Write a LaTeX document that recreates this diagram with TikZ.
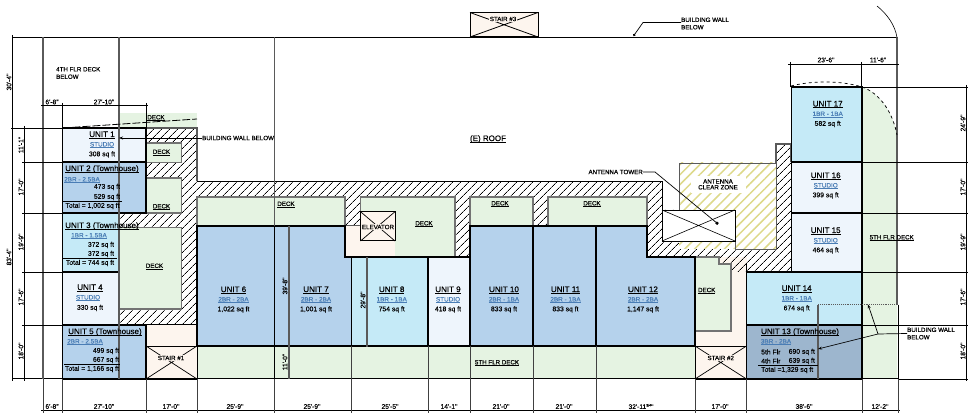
\documentclass[tikz,border=0pt]{standalone}
\usepackage{fontspec}
\usetikzlibrary{patterns.meta,arrows.meta}
\newfontfamily\lsf{Liberation Sans}
\newfontfamily\lsb[FakeBold=0.2]{Liberation Sans}
\newfontfamily\lsc[FakeBold=0.4]{Liberation Sans}
\definecolor{ublue}{HTML}{B5D2EC}
\definecolor{ucyan}{HTML}{C5EAF7}
\definecolor{ulight}{HTML}{EEF5FC}
\definecolor{udark}{HTML}{9DB6CE}
\definecolor{deckg}{HTML}{E5F3E2}
\definecolor{beige}{HTML}{FDF5EE}
\definecolor{subblue}{HTML}{4A7DB5}
\definecolor{wallg}{HTML}{5A5A5A}
\definecolor{yhatch}{HTML}{DDD98A}
\newcommand{\ulx}[1]{\setbox0\hbox{#1}\rlap{\rule[-1.5pt]{\wd0}{.7pt}}\box0}
\tikzset{
  unitbox/.style={draw=black,line width=1.3pt},
  deckbox/.style={fill=deckg,draw=wallg!85,line width=1.2pt},
  stairbox/.style={fill=beige,draw=black,line width=1pt},
  hatched/.style={pattern={Lines[angle=45,distance=5.4pt,line width=.7pt]},pattern color=black},
  wall/.style={draw=wallg,line width=1.3pt},
  dimln/.style={draw=black,line width=.6pt},
  extln/.style={draw=black!75,line width=.7pt},
  ttl/.style={font=\lsc\fontsize{8}{9}\selectfont,inner sep=0pt,text=black},
  sub/.style={font=\lsb\fontsize{6.4}{7}\selectfont,inner sep=0pt,text=subblue},
  area/.style={font=\lsb\fontsize{6.8}{8}\selectfont,inner sep=0pt,text=black},
  lab/.style={font=\lsc\fontsize{6.2}{7.4}\selectfont,inner sep=0pt,text=black},
  dimt/.style={font=\lsb\fontsize{6.6}{8}\selectfont,inner sep=0pt,text=black},
  dimv/.style={dimt,rotate=90},
  ldr/.style={draw=black,line width=.7pt},
  ldra/.style={ldr,-{Stealth[length=4pt,width=3pt]}},
}
\newcommand{\unitlab}[6]{% name x y1 title sub area (with y+10, y+20)
  \node[ttl] (#1t) at (#2,#3) {\ulx{#4}};
  \node[sub] (#1s) at (#2,#3+10) {\ulx{#5}};
  \node[area] (#1a) at (#2,#3+19.5) {#6};
}
\begin{document}
\begin{tikzpicture}[x=1pt,y=-1pt]
\useasboundingbox (0,0) rectangle (975,419);
\fill[white] (0,0) rectangle (975,419);

% green and beige grounds
\fill[deckg] (119,113.5) rectangle (197,128);
\fill[deckg] (862,87) .. controls (880,93) and (893,113) .. (897,135) -- (897,379) -- (862,379) -- cycle;
\fill[beige] (146,325) rectangle (197,379);
\fill[beige] (695,257) rectangle (746.5,379);
\fill[deckg] (197,346) rectangle (695,379);

% hatched wall band
\path[hatched] (146,128) -- (197,128) -- (197,181.5) -- (662,181.5) -- (662,210) -- (776,210) -- (776,144) -- (791,144) -- (791,272) -- (731,272) -- (731,264) -- (719,264) -- (719,257) -- (647,257) -- (647,226) -- (470,226) -- (470,257) -- (455,257) -- (455,226) -- (197,226) -- (197,325) -- (119,325) -- (119,213) -- (146,213) -- cycle;
\draw[black,line width=.9pt] (197,181.5) -- (662,181.5) -- (662,210);
\draw[wallg,line width=1.1pt] (146,128) -- (197,128) -- (197,181.5);
\draw[wallg,line width=1.1pt] (776,210) -- (776,144) -- (791,144) -- (791,162);

% antenna clear zone
\fill[white] (679,163) rectangle (776,249);
\path[pattern={Lines[angle=45,distance=7pt,line width=1.5pt]},pattern color=yhatch] (679,163) rectangle (776,249);
\draw[wallg,line width=.9pt] (679,210) -- (679,163) -- (776,163) -- (776,249) -- (735,249) -- (735,241);
\fill[white] (691,176) rectangle (746,193);
\node[lab] (clear) at (718,185) {\begin{tabular}{@{}c@{}}ANTENNA\\[-1.5pt]CLEAR ZONE\end{tabular}};

% antenna tower box
\draw[fill=white,draw=black,line width=.9pt] (662,210) rectangle (735,241);
\draw[black,line width=.6pt] (662,210) -- (735,241) (662,241) -- (735,210);

% decks
\draw[deckbox] (146,143) rectangle (181.7,162.5);
\draw[deckbox] (146,178) -- (181.7,178) -- (181.7,213) -- (146,213) -- cycle;
\draw[deckbox] (119,227.5) rectangle (181.7,309);
\draw[deckbox] (197,197) rectangle (345,226);
\draw[deckbox] (360.5,197) rectangle (455,257);
\draw[deckbox] (470,197) rectangle (533,226);
\draw[deckbox] (548,197) rectangle (647,226);
\draw[deckbox] (695,257) -- (719,257) -- (719,264) -- (731,264) -- (731,331) -- (695,331) -- cycle;
\fill[beige] (345,226) rectangle (395,256);
\draw[wallg,line width=1pt] (345,226) -- (360.5,226);

% units
\draw[unitbox,fill=ulight] (62.5,128) rectangle (146,162);
\draw[unitbox,fill=ublue] (62.5,162) rectangle (146,213);
\draw[unitbox,fill=ucyan] (62.5,213) rectangle (119,272);
\draw[unitbox,fill=ulight] (62.5,272) rectangle (119,325);
\draw[unitbox,fill=ublue] (62.5,325) rectangle (146,379);
\draw[unitbox,fill=ublue] (197,226) rectangle (274.5,346);
\draw[unitbox,fill=ublue] (274.5,226) -- (345,226) -- (345,257) -- (351.5,257) -- (351.5,346) -- (274.5,346) -- cycle;
\draw[unitbox,fill=ucyan] (351.5,257) rectangle (428,346);
\draw[unitbox,fill=ulight] (428,257) rectangle (470,346);
\draw[unitbox,fill=ublue] (470,226) rectangle (533,346);
\draw[unitbox,fill=ublue] (533,226) rectangle (596,346);
\draw[unitbox,fill=ublue] (596,226) -- (647,226) -- (647,257) -- (695,257) -- (695,346) -- (596,346) -- cycle;
\draw[unitbox,fill=udark] (746.5,325) rectangle (862,379);
\draw[unitbox,fill=ucyan,draw=black] (746.5,272) rectangle (862,325);
\draw[unitbox,fill=ulight] (791.5,213) rectangle (862,272);
\draw[unitbox,fill=ulight] (791.5,162) rectangle (862,213);
\draw[unitbox,fill=ucyan] (791.5,87) rectangle (862,162);

% stairs and elevator
\draw[stairbox,draw=black,line width=.8pt] (146,346) rectangle (197,379);
\draw[black,line width=.7pt] (146,346) -- (197,379) (146,379) -- (197,346);
\draw[stairbox,draw=black,line width=.8pt] (695,346) rectangle (746.5,379);
\draw[black,line width=.7pt] (695,346) -- (746.5,379) (695,379) -- (746.5,346);
\draw[stairbox] (470,12.5) rectangle (538,37);
\draw[black,line width=.8pt] (470,12.5) -- (538,37) (470,37) -- (538,12.5);
\draw[stairbox] (360.5,211.7) rectangle (395,241);
\draw[black,line width=.7pt] (360.5,211.7) -- (395,241) (360.5,241) -- (395,211.7);

% frame and building lines
\draw[black,line width=1pt] (12,37.5) -- (897,37.5);
\draw[black,line width=1pt] (12,379) -- (898,379);
\draw[black,line width=1pt] (146,325) -- (197,325);
\draw[black,line width=1pt] (197,346) -- (695,346);
\draw[black,line width=1pt] (746.5,379) -- (746.5,264);
\draw[wall] (43,37.5) -- (43,379);
\draw[wall] (119,37.5) -- (119,379);
\draw[wallg,line width=1.4pt] (274.5,37.5) -- (274.5,226);
\draw[black,line width=1.2pt] (274.5,226) -- (274.5,379);
\draw[wall] (289,226) -- (289,379);
\draw[wall] (367,257) -- (367,347);
\draw[extln] (351.5,346) -- (351.5,379) (428,346) -- (428,379) (470,346) -- (470,379) (533,346) -- (533,379) (596,346) -- (596,379);
\draw[black,line width=1pt] (197,325) -- (197,379);
\draw[black,line width=1pt] (146,325) -- (146,379);
\draw[black,line width=1pt] (695,346) -- (695,379);
\draw[black,line width=1pt] (862,87) -- (862,379);
\draw[wallg,line width=1.7pt] (897,37.5) -- (897,304.7);
\draw[black,line width=.8pt] (898,304.7) -- (898,379);
\draw[wall] (818,304.7) -- (818,379);
\draw[wallg,line width=.9pt,densely dotted] (818,304.7) -- (897,304.7);

% curved and dashed outlines
\draw[black,line width=.6pt] (877,6) .. controls (887,14) and (895,25) .. (897,37.5);
\draw[black,line width=.7pt,dashed] (862,87) .. controls (880,93) and (893,113) .. (897,135);
\draw[black,line width=.7pt,dashed] (791,86) .. controls (810,81) and (840,80) .. (862,87);
\draw[black,line width=.8pt,dash pattern=on 8pt off 2pt] (62.5,128) -- (197,119);

% dimension lines: left
\draw[dimln] (12.5,35) -- (12.5,381);
\draw[dimln] (24.5,126) -- (24.5,381);
\draw[dimln] (11,128) -- (62.5,128);
\draw[dimln] (22,162) -- (62.5,162) (22,213) -- (62.5,213) (22,272) -- (62.5,272) (22,325) -- (62.5,325);
% top left
\draw[dimln] (41,105.5) -- (148,105.5);
\draw[dimln] (62.5,103) -- (62.5,128) (146,103) -- (146,128);
% top right
\draw[dimln] (788,64) -- (899,64);
\draw[dimln] (790,62) -- (790,87) (861.7,62) -- (861.7,87);
% right
\draw[dimln] (966,85) -- (966,381);
\draw[dimln] (862,87) -- (968,87) (862,162) -- (968,162) (862,213) -- (968,213) (862,272) -- (968,272) (862,325) -- (968,325) (898,379) -- (968,379);
% bottom
\draw[dimln] (41,410.5) -- (900,410.5);
\foreach \xx in {43,62.5,146,197,274.5,351.5,428,470,533,596,695,746.5,862,898} {
  \draw[extln] (\xx,379) -- (\xx,413);
}

% dimension texts
\node[dimv] (d1) at (9,82) {30'-4"};
\node[dimv] (d2) at (9,257) {83'-4"};
\node[dimv] (d3) at (21,145) {11'-1"};
\node[dimv] (d4) at (21,187) {17'-0"};
\node[dimv] (d5) at (21,242) {19'-9"};
\node[dimv] (d6) at (21,297) {17'-6"};
\node[dimv] (d7) at (21,351) {18'-0"};
\node[dimv] (d8) at (285,286) {39'-8"};
\node[dimv] (d9) at (285,362) {11'-0"};
\node[dimv] (d10) at (363,300) {29'-8"};
\node[dimv] (d11) at (963,123) {24'-9"};
\node[dimv] (d12) at (963,187) {17'-0"};
\node[dimv] (d13) at (963,242) {19'-9"};
\node[dimv] (d14) at (963,297) {17'-6"};
\node[dimv] (d15) at (963,351) {18'-0"};
\node[dimt] (t1) at (52,102) {6'-8"};
\node[dimt] (t2) at (104,102) {27'-10"};
\node[dimt] (t3) at (826,60) {23'-6"};
\node[dimt] (t4) at (878,60) {11'-6"};
\node[dimt] (b1) at (52,406.5) {6'-8"};
\node[dimt] (b2) at (104,406.5) {27'-10"};
\node[dimt] (b3) at (171,406.5) {17'-0"};
\node[dimt] (b4) at (235,406.5) {25'-9"};
\node[dimt] (b5) at (312,406.5) {25'-9"};
\node[dimt] (b6) at (390,406.5) {25'-5"};
\node[dimt] (b7) at (449,406.5) {14'-1"};
\node[dimt] (b8) at (501,406.5) {21'-0"};
\node[dimt] (b9) at (564,406.5) {21'-0"};
\node[dimt] (b10) at (641,406.5) {32'-11\raisebox{2.5pt}{\fontsize{3.5}{4}\selectfont 3/4}"};
\node[dimt] (b11) at (720,406.5) {17'-0"};
\node[dimt] (b12) at (804,406.5) {38'-6"};
\node[dimt] (b13) at (880,406.5) {12'-2"};

% unit labels
\unitlab{u1}{102}{135}{UNIT 1}{STUDIO}{308 sq ft}
\node[ttl] (u2t) at (102,169) {\ulx{UNIT 2 (Townhouse)}};
\node[sub] (u2s) at (82,180) {\ulx{2BR - 2.5BA}};
\node[area] (u2a) at (107,187) {473 sq ft};
\node[area] (u2b) at (107,197) {529 sq ft};
\draw[black,line width=.6pt] (63,201) -- (122,201);
\node[area] (u2c) at (92.5,206) {Total = 1,002 sq ft};
\node[ttl] (u3t) at (102,226) {\ulx{UNIT 3 (Townhouse)}};
\node[sub] (u3s) at (89,236) {\ulx{1BR - 1.5BA}};
\node[area] (u3a) at (101,245) {372 sq ft};
\node[area] (u3b) at (101,254) {372 sq ft};
\draw[black,line width=.6pt] (63,258) -- (117,258);
\node[area] (u3c) at (90,263) {Total = 744 sq ft};
\node[ttl] (u4t) at (90,288) {\ulx{UNIT 4}};
\node[sub] (u4s) at (88,298) {\ulx{STUDIO}};
\node[area] (u4a) at (90,308) {330 sq ft};
\node[ttl] (u5t) at (105,332) {\ulx{UNIT 5 (Townhouse)}};
\node[sub] (u5s) at (85,342) {\ulx{2BR - 2.5BA}};
\node[area] (u5a) at (106,351) {499 sq ft};
\node[area] (u5b) at (106,360) {667 sq ft};
\draw[black,line width=.6pt] (64,364.5) -- (120,364.5);
\node[area] (u5c) at (92,369) {Total = 1,166 sq ft};
\unitlab{u6}{233.5}{290}{UNIT 6}{2BR - 2BA}{1,022 sq ft}
\unitlab{u7}{316}{290}{UNIT 7}{2BR - 2BA}{1,001 sq ft}
\unitlab{u8}{391.7}{290}{UNIT 8}{1BR - 1BA}{754 sq ft}
\unitlab{u9}{448}{290}{UNIT 9}{STUDIO}{418 sq ft}
\unitlab{u10}{504}{290}{UNIT 10}{2BR - 1BA}{833 sq ft}
\unitlab{u11}{565.5}{290}{UNIT 11}{2BR - 1BA}{833 sq ft}
\unitlab{u12}{643}{290}{UNIT 12}{2BR - 2BA}{1,147 sq ft}
\node[ttl] (u13t) at (800,332) {\ulx{UNIT 13 (Townhouse)}};
\node[sub] (u13s) at (776,342) {\ulx{3BR - 2BA}};
\node[area,anchor=west] (u13a) at (761,352) {5th Flr};
\node[area,anchor=east] (u13b) at (815,352) {690 sq ft};
\node[area,anchor=west] (u13c) at (761,361) {4th Flr};
\node[area,anchor=east] (u13d) at (815,361) {639 sq ft};
\draw[black,line width=.6pt] (758,365) -- (817.5,365);
\node[area,anchor=west] (u13e) at (761,370) {Total =1,329 sq ft};
\unitlab{u14}{796.7}{289}{UNIT 14}{1BR - 1BA}{674 sq ft}
\unitlab{u15}{825.7}{231}{UNIT 15}{STUDIO}{464 sq ft}
\unitlab{u16}{825.7}{176}{UNIT 16}{STUDIO}{399 sq ft}
\unitlab{u17}{827.7}{104.5}{UNIT 17}{1BR - 1BA}{582 sq ft}

% deck and other labels
\node[lab] (k1) at (156,118) {\ulx{DECK}};
\node[lab] (k2) at (161.5,152.5) {\ulx{DECK}};
\node[lab] (k3) at (161.5,207) {\ulx{DECK}};
\node[lab] (k4) at (154.5,266.5) {\ulx{DECK}};
\node[lab] (k5) at (286,204.5) {\ulx{DECK}};
\node[lab] (k6) at (424,224) {\ulx{DECK}};
\node[lab] (k7) at (500,204) {\ulx{DECK}};
\node[lab] (k8) at (592,204) {\ulx{DECK}};
\node[lab] (k9) at (706.7,290.7) {\ulx{DECK}};
\node[lab] (k10) at (497,363) {\ulx{5TH FLR DECK}};
\node[lab] (k11) at (891.7,238) {\ulx{5TH FLR DECK}};
\node[lab,fill=beige,inner sep=1pt] (s1) at (171,358) {STAIR \#1};
\node[lab,fill=beige,inner sep=1pt] (s2) at (720.7,358) {STAIR \#2};
\node[lab,fill=beige,inner sep=.5pt] (s3) at (503,19) {STAIR \#3};
\node[lab,fill=beige,inner sep=.5pt] (ele) at (378,227) {ELEVATOR};
\node[font=\lsc\fontsize{8}{9}\selectfont,inner sep=0pt] (roof) at (488,139) {\ulx{(E) ROOF}};
\node[lab,anchor=west,align=left] (fourth) at (56,73) {4TH FLR DECK\\BELOW};

% leaders
\node[lab,anchor=west] (bw1) at (202,138) {BUILDING WALL BELOW};
\coordinate (bw1end) at (119,138);
\draw[ldra] (bw1.west) -- (bw1end);
\node[lab,anchor=west,align=left] (bw2) at (681,23.5) {BUILDING WALL\\BELOW};
\coordinate (bw2end) at (633.5,36);
\coordinate (bw2k) at (643,22.5);
\draw[ldr,-{Circle[length=2.5pt]}] (bw2.west |- bw2k) -- (bw2k) -- (bw2end);
\node[lab,anchor=east] (ant) at (643,172) {ANTENNA TOWER};
\coordinate (antk) at (655,172);
\coordinate (antend) at (718,224);
\draw[ldr,-{Square[length=2.5pt,width=2.5pt]}] (ant.east) -- (antk) -- (antend);
\node[lab,anchor=west,align=left] (bw3) at (907,333.5) {BUILDING WALL\\BELOW};
\coordinate (bw3k) at (878,334);
\coordinate (bw3a) at (868,304.5);
\coordinate (bw3b) at (818,349);
\draw[ldr] (bw3.west) -- (bw3k);
\draw[ldra] (bw3k) -- (bw3a);
\draw[ldra] (bw3k) -- (bw3b);
\end{tikzpicture}
\end{document}
